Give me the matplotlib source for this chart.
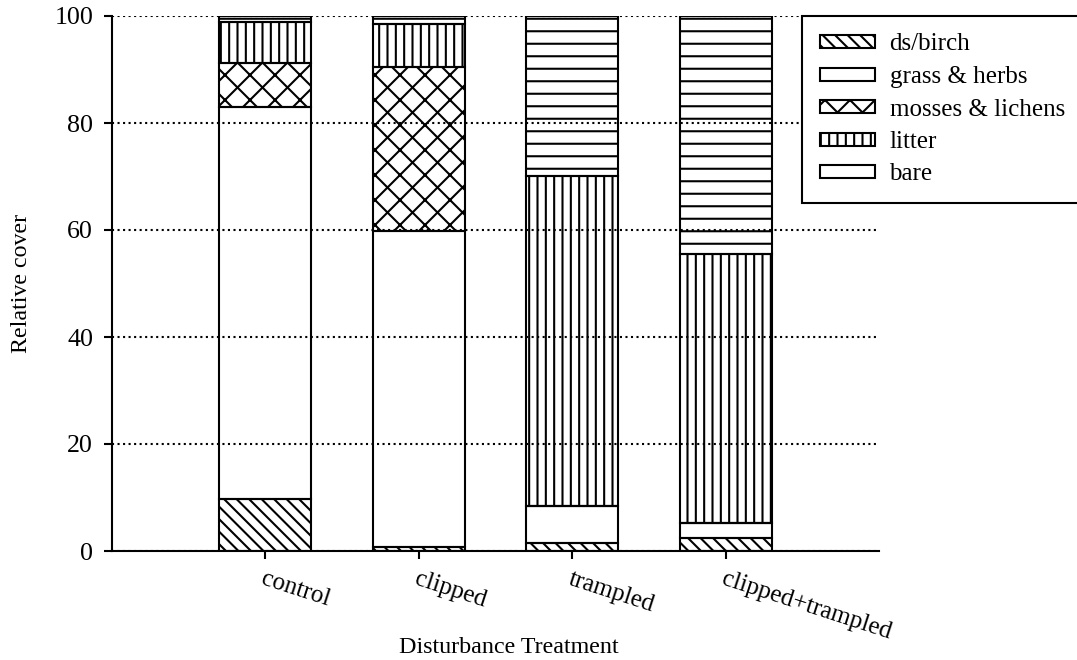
import numpy as np
import matplotlib
matplotlib.use('Agg')
import matplotlib.pyplot as plt
from matplotlib.patches import Patch

# date (procente din acoperire)
categories = ['control', 'clipped', 'trampled', 'clipped+trampled']
ds_birch = [9.7, 0.7, 1.5, 2.4]
grass_herbs = [73.2, 59.1, 7.0, 2.9]
mosses_lichens = [8.4, 30.7, 0.0, 0.0]
litter = [7.5, 8.0, 61.6, 50.2]
bare = [1.2, 1.5, 29.9, 44.5]

series_names = ['ds/birch', 'grass & herbs', 'mosses & lichens', 'litter', 'bare']
yticks = [0, 20, 40, 60, 80, 100]

plt.rcParams['font.family'] = ['Liberation Serif', 'DejaVu Serif']
plt.rcParams['hatch.linewidth'] = 1.0

# dpi mare ca sa iasa hasurile mai rare
fig = plt.figure(figsize=(1077 / 150, 660 / 150), dpi=150)
ax = fig.add_axes([112 / 1077, 1 - 551 / 660, 767 / 1077, 535 / 660])

x = np.arange(len(categories))
series = [ds_birch, grass_herbs, mosses_lichens, litter, bare]
# diagonalele sunt de 2 ori mai rare decat cele drepte in matplotlib
hatches = ['\\\\\\\\', '', 'xx', '|||', '--']

bottom = np.zeros(len(categories))
handles = []
for vals, name, h in zip(series, series_names, hatches):
    vals = np.array(vals)
    b = ax.bar(x, vals, width=0.6, bottom=bottom, facecolor='none',
               edgecolor='black', linewidth=1.0, hatch=h, label=name, zorder=2)
    handles.append(b)
    bottom = bottom + vals

# in legenda "bare" apare ca dreptunghi gol (liniile orizontale sunt prea rare)
handles[-1] = Patch(facecolor='none', edgecolor='black', linewidth=1.0)

ax.set_xlim(-1, 4)
ax.set_ylim(0, 100)
ax.set_yticks(yticks)
ax.set_xticks(x)
ax.set_xticklabels(categories, rotation=-18, ha='left', rotation_mode='anchor')

# linii punctate orizontale
ax.yaxis.grid(True, linestyle=':', color='black', linewidth=1.0, zorder=3)
ax.set_axisbelow(False)

for s in ['top', 'right']:
    ax.spines[s].set_visible(False)
for s in ['left', 'bottom']:
    ax.spines[s].set_linewidth(1.0)

ax.tick_params(axis='both', direction='out', length=4, width=1.0)
ax.tick_params(axis='x', pad=4, labelsize=12)
ax.tick_params(axis='y', pad=5, labelsize=12.5)

ax.set_ylabel('Relative cover', fontsize=11.5)
ax.set_xlabel('Disturbance Treatment', fontsize=11.5)
ax.yaxis.set_label_coords(-0.104, 0.5)
ax.xaxis.set_label_coords(0.518, -0.16)

leg = fig.legend(handles=handles, labels=series_names, loc='upper left',
                 bbox_to_anchor=(802 / 1077, 1 - 16 / 660), borderaxespad=0,
                 fontsize=12, frameon=True, fancybox=False, edgecolor='black',
                 framealpha=1, handlelength=2.2, handleheight=0.42,
                 handletextpad=0.6, labelspacing=0.42, borderpad=0.7)
leg.get_frame().set_linewidth(1.0)

fig.savefig('out.png', dpi=150)
